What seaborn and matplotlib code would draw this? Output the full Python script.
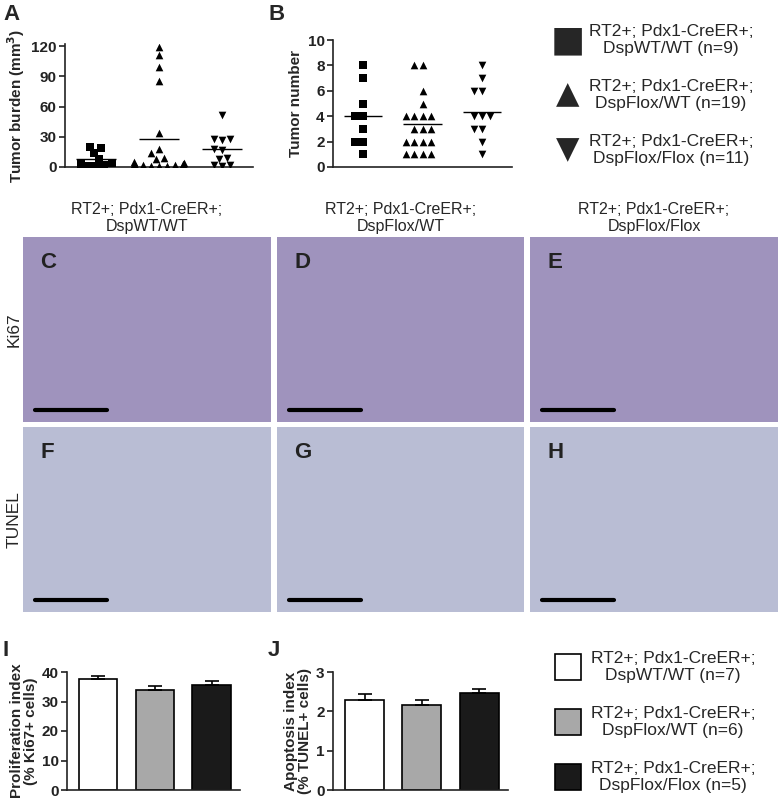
import matplotlib
matplotlib.use("Agg")
import matplotlib.pyplot as plt
import numpy as np
import pandas as pd
import seaborn as sns

sns.set_theme(style="ticks")
plt.rcParams["font.family"] = ["Liberation Sans", "DejaVu Sans"]

GENOTYPES = ["DspWT/WT", "DspFlox/WT", "DspFlox/Flox"]
PREFIX = "RT2+; Pdx1-CreER+;"
MARKERS = ["s", "^", "v"]

burden_wt = [19, 14, 20, 8, 4, 1, 2, 3, 1]
burden_fw = [119, 111, 99, 85, 34, 18, 14, 9, 5, 3, 3, 2, 1, 1, 2, 1, 8, 4, 2]
burden_ff = [52, 28, 28, 27, 18, 17, 8, 9, 2, 2, 1]

number_wt = [8, 7, 5, 4, 4, 3, 2, 2, 1]
number_fw = [8, 8, 6, 5, 4, 4, 4, 4, 3, 3, 3, 2, 2, 2, 2, 1, 1, 1, 1]
number_ff = [8, 7, 6, 6, 4, 4, 4, 3, 3, 2, 1]

n_scatter = [9, 19, 11]
prolif_mean = [37.5, 33.8, 35.7]
prolif_sem = [1.3, 1.6, 1.4]
apopt_mean = [2.3, 2.16, 2.46]
apopt_sem = [0.13, 0.13, 0.1]
n_bar = [7, 6, 5]
BAR_COLORS = ["white", "#a8a8a8", "#1a1a1a"]

W, H = 781, 800
fig = plt.figure(figsize=(W / 100, H / 100), dpi=100)


def ax_px(x0, y0, x1, y1):
    return fig.add_axes([x0 / W, 1 - y1 / H, (x1 - x0) / W, (y1 - y0) / H])


def style(ax):
    sns.despine(ax=ax)
    ax.tick_params(axis="y", labelsize=11, width=1.2, length=4, pad=2, colors="#222222")
    ax.tick_params(axis="x", length=0)
    for s in ["left", "bottom"]:
        ax.spines[s].set_linewidth(1.2)
        ax.spines[s].set_color("#222222")
    for lab in ax.get_yticklabels():
        lab.set_fontweight("bold")


def scatter_panel(ax, groups, ylim, yticks, ylabel):
    for gi, vals in enumerate(groups):
        df = pd.DataFrame({"g": GENOTYPES[gi], "v": vals})
        sns.swarmplot(data=df, x="g", y="v", order=GENOTYPES, marker=MARKERS[gi], color="black",
                      size=5.5, ax=ax, legend=False, warn_thresh=1)
        ax.hlines(np.mean(vals), gi - 0.32, gi + 0.32, color="black", lw=1)
    ax.set_xlim(-0.5, 2.5)
    ax.set_ylim(*ylim)
    ax.set_yticks(yticks)
    ax.set_xticks([])
    ax.set_xlabel("")
    ax.set_ylabel(ylabel, fontsize=11, fontweight="bold", labelpad=3)
    style(ax)


axA = ax_px(65, 44, 253, 167)
scatter_panel(axA, [burden_wt, burden_fw, burden_ff], (0, 122), [0, 30, 60, 90, 120],
              "Tumor burden (mm$^\\mathbf{3}$)")
axB = ax_px(333, 40, 512, 167)
scatter_panel(axB, [number_wt, number_fw, number_ff], (0, 10), [0, 2, 4, 6, 8, 10], "Tumor number")

fig.text(3 / W, 1 - 14 / H, "A", fontsize=16, fontweight="bold", va="center")
fig.text(268 / W, 1 - 14 / H, "B", fontsize=16, fontweight="bold", va="center")

# legends
for i in range(3):
    y = 40 + i * 55
    fig.text(568 / W, 1 - y / H, "■▲▼"[i], fontsize=22 if i else 26, ha="center", va="center",
             family="DejaVu Sans")
    fig.text(671 / W, 1 - y / H, f"{PREFIX}\n{GENOTYPES[i]} (n={n_scatter[i]})", fontsize=12.5,
             ha="center", va="center", linespacing=1.15)

# image panels (flat placeholders for the micrographs)
cols = [(23, 271), (277, 524), (530, 778)]
rows_px = [(237, 422), (427, 612)]
letters = [["C", "D", "E"], ["F", "G", "H"]]
tints = ["#9f93bd", "#b9bdd4"]
for ci, (x0, x1) in enumerate(cols):
    fig.text((x0 + x1) / 2 / W, 1 - 218 / H, f"{PREFIX}\n{GENOTYPES[ci]}", fontsize=11.5,
             ha="center", va="center", linespacing=1.15)
    for ri, (y0, y1) in enumerate(rows_px):
        ax = ax_px(x0, y0, x1, y1)
        ax.set_facecolor(tints[ri])
        ax.set_xticks([])
        ax.set_yticks([])
        for s in ax.spines.values():
            s.set_visible(False)
        ax.set_xlim(0, 1)
        ax.set_ylim(0, 1)
        ax.text(0.07, 0.86, letters[ri][ci], fontsize=16, fontweight="bold", va="center",
                color="#222222")
        ax.plot([0.05, 0.34], [0.065, 0.065], color="black", lw=3)
fig.text(14 / W, 1 - 330 / H, "Ki67", rotation=90, fontsize=12.5, ha="center", va="center")
fig.text(14 / W, 1 - 520 / H, "TUNEL", rotation=90, fontsize=12.5, ha="center", va="center")


def bar_panel(ax, means, sems, ylim, yticks, ylabel):
    df = pd.DataFrame({"g": GENOTYPES, "m": means})
    sns.barplot(data=df, x="g", y="m", hue="g", palette=BAR_COLORS, edgecolor="black",
                linewidth=1.2, width=0.68, ax=ax, legend=False)
    ax.errorbar(range(3), means, yerr=[[0] * 3, sems], fmt="none", ecolor="black",
                capsize=5, elinewidth=1.2, capthick=1.2)
    ax.set_xlim(-0.55, 2.5)
    ax.set_ylim(*ylim)
    ax.set_yticks(yticks)
    ax.set_xticks([])
    ax.set_xlabel("")
    ax.set_ylabel(ylabel, fontsize=11, fontweight="bold", linespacing=1.0, labelpad=3)
    style(ax)


axI = ax_px(67, 672, 240, 790)
bar_panel(axI, prolif_mean, prolif_sem, (0, 40), [0, 10, 20, 30, 40],
          "Proliferation index\n(% Ki67+ cells)")
axJ = ax_px(333, 672, 508, 790)
bar_panel(axJ, apopt_mean, apopt_sem, (0, 3), [0, 1, 2, 3],
          "Apoptosis index\n(% TUNEL+ cells)")
fig.text(3 / W, 1 - 650 / H, "I", fontsize=16, fontweight="bold", va="center")
fig.text(268 / W, 1 - 650 / H, "J", fontsize=16, fontweight="bold", va="center")

for i in range(3):
    y = 667 + i * 55
    fig.add_artist(plt.Rectangle((555 / W, 1 - (y + 13) / H), 26 / W, 26 / H,
                                 facecolor=BAR_COLORS[i], edgecolor="black", lw=1.2))
    fig.text(673 / W, 1 - y / H, f"{PREFIX}\n{GENOTYPES[i]} (n={n_bar[i]})", fontsize=12.5,
             ha="center", va="center", linespacing=1.15)

fig.savefig("out.png", dpi=100)
